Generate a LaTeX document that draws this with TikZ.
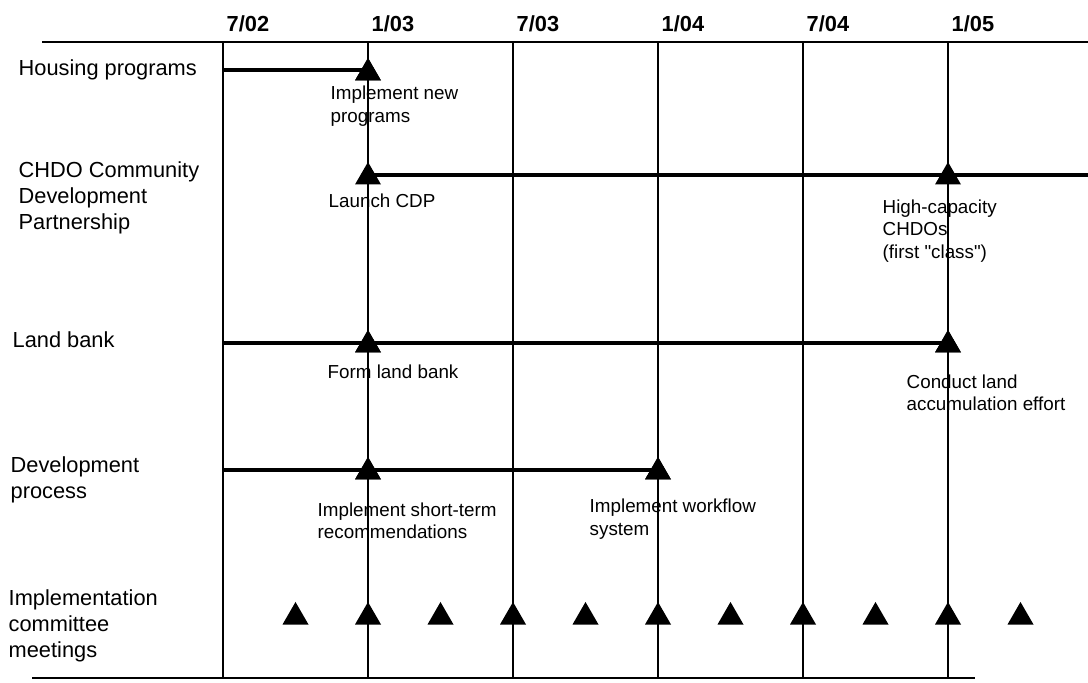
\documentclass[tikz,border=0pt]{standalone}
\usepackage{fontspec}
\setmainfont{Liberation Sans}
\newfontfamily\plainq{Liberation Sans}
\usepackage{tikz}
\usetikzlibrary{shapes.geometric}

\begin{document}
\begin{tikzpicture}[
    x=0.01cm, y=-0.01cm,
    every node/.style={inner sep=0pt},
    rowlabel/.style={anchor=west, align=left, font=\fontsize{6.2}{7.4}\selectfont},
    note/.style={anchor=west, align=left, font=\fontsize{5.35}{6.4}\selectfont},
    datelabel/.style={anchor=base west, font=\fontsize{6.2}{7.4}\selectfont\bfseries},
    mile/.style={regular polygon, regular polygon sides=3, fill=black, minimum size=0.3cm, inner sep=0pt},
    axis/.style={line width=0.6pt},
    grid/.style={line width=0.4pt},
    bar/.style={line width=1.1pt}
]
    \useasboundingbox (0,0) rectangle (1088,683);

    % Axes
    \coordinate (axisL) at (42,42);
    \coordinate (axisR) at (1088,42);
    \draw[axis] (axisL) -- (axisR);
    \coordinate (baseL) at (32,678);
    \coordinate (baseR) at (975,678);
    \draw[axis] (baseL) -- (baseR);

    % Half-year columns
    \foreach \m/\y [count=\i from 0] in {7/02,1/03,7/03,1/04,7/04,1/05}{
        \coordinate (top\i) at (223+145*\i,42);
        \coordinate (bot\i) at (223+145*\i,678);
        \draw[grid] (top\i) -- (bot\i);
        \node[datelabel] (date\i) at (226+145*\i,32) {\m/\y};
    }

    % Housing programs
    \node[rowlabel] (hp) at (18,70) {Housing programs};
    \coordinate (hp-a) at (223,70);
    \node[mile] (hp-m1) at (368,73) {};
    \draw[bar] (hp-a) -- (hp-a -| hp-m1);
    \node[mile] at (hp-m1) {};
    \node[note] (hp-n1) at (330,106) {Implement new\\programs};

    % CHDO partnership
    \node[rowlabel] (cdp) at (18,198) {CHDO Community\\Development\\Partnership};
    \coordinate (cdp-a) at (368,175);
    \coordinate (cdp-b) at (1088,175);
    \draw[bar] (cdp-a) -- (cdp-b);
    \node[mile] (cdp-m1) at (368,177) {};
    \node[mile] (cdp-m2) at (948,177) {};
    \node[note] (cdp-n1) at (328,201) {Launch CDP};
    \node[note] (cdp-n2) at (882,231) {High-capacity\\CHDOs\\(first {\plainq"}class{\plainq"})};

    % Land bank
    \node[rowlabel] (lb) at (12,340) {Land bank};
    \coordinate (lb-a) at (223,343);
    \node[mile] (lb-m1) at (368,345) {};
    \node[mile] (lb-m2) at (948,345) {};
    \draw[bar] (lb-a) -- (lb-a -| lb-m2);
    \node[mile] at (lb-m1) {};
    \node[mile] at (lb-m2) {};
    \node[note] (lb-n1) at (327,372) {Form land bank};
    \node[note] (lb-n2) at (906,393) {Conduct land\\accumulation effort};

    % Development process
    \node[rowlabel] (dp) at (10,480) {Development\\process};
    \coordinate (dp-a) at (223,470);
    \node[mile] (dp-m1) at (368,472) {};
    \node[mile] (dp-m2) at (658,472) {};
    \draw[bar] (dp-a) -- (dp-a -| dp-m2);
    \node[mile] at (dp-m1) {};
    \node[mile] at (dp-m2) {};
    \node[note] (dp-n1) at (317,521) {Implement short-term\\recommendations};
    \node[note] (dp-n2) at (589,519) {Implement workflow\\system};

    % Committee meetings
    \node[rowlabel] (ic) at (8,626) {Implementation\\committee\\meetings};
    \foreach \k in {1,...,11}
        \node[mile] (meet\k) at (223+72.5*\k,617) {};
\end{tikzpicture}
\end{document}
